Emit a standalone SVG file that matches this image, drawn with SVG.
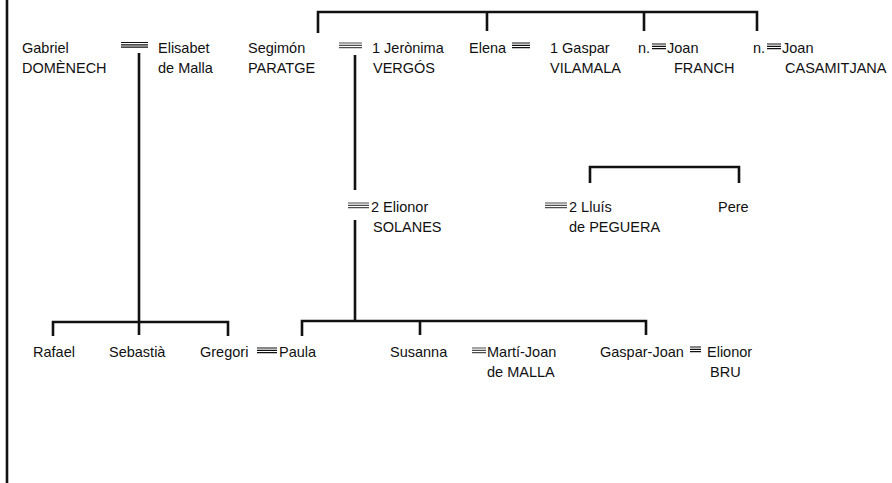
<svg xmlns="http://www.w3.org/2000/svg" width="892" height="483" viewBox="0 0 892 483">
<style>
text{font-family:"Liberation Sans",Arial,Helvetica,sans-serif;font-size:14.5px;fill:#111}
.c{fill:none;stroke:#111;stroke-width:2.6;stroke-linecap:butt}
.m{fill:none;stroke:#111;stroke-width:1.2}
.l{stroke-opacity:0.75}
</style>
<rect width="892" height="483" fill="#fff"/>
<g id="connectors">
<path class="c" d="M7,0V483"/>
<path class="c" d="M318,33V12H757V31M487,12V31M644,12V31"/>
<path class="c" d="M139,53V335"/>
<path class="c" d="M53,336V322H228V336"/>
<path class="c" d="M355,55V190M355,220V321"/>
<path class="c" d="M302,336V321H646V335M420,321V335"/>
<path class="c" d="M590,183V167H739V183"/>
</g>
<g id="gabriel"><text x="22" y="53">Gabriel</text><text x="22" y="73">DOMÈNECH</text></g>
<g id="m-gabriel"><path class="m" d="M121,42.5H148M121,44.8H148M121,47.1H148"/></g>
<g id="elisabet"><text x="158" y="53">Elisabet</text><text x="158" y="73">de Malla</text></g>
<g id="segimon"><text x="248" y="53">Segimón</text><text x="248" y="73">PARATGE</text></g>
<g id="m-segimon"><path class="m l" d="M339,43H362M339,45.3H362M339,47.6H362"/></g>
<g id="jeronima"><text x="372" y="53">1 Jerònima</text><text x="373" y="73">VERGÓS</text></g>
<g id="elena"><text x="469" y="53">Elena</text></g>
<g id="m-elena"><path class="m" d="M512,43H530M512,45.3H530M512,47.6H530"/></g>
<g id="gaspar-v"><text x="550" y="53">1 Gaspar</text><text x="550" y="73">VILAMALA</text></g>
<g id="joan-f"><text x="638" y="53">n.</text><path class="m" d="M652,44H666M652,46.3H666M652,48.6H666"/><text x="667" y="53">Joan</text><text x="674" y="73">FRANCH</text></g>
<g id="joan-c"><text x="753" y="53">n.</text><path class="m" d="M767,44H781M767,46.3H781M767,48.6H781"/><text x="782" y="53">Joan</text><text x="785" y="73">CASAMITJANA</text></g>
<g id="elionor-s"><path class="m l" d="M348,203H369M348,205.3H369M348,207.6H369"/><text x="371" y="212">2 Elionor</text><text x="373" y="232">SOLANES</text></g>
<g id="lluis"><path class="m l" d="M545,203H567M545,205.3H567M545,207.6H567"/><text x="569" y="212">2 Lluís</text><text x="569" y="232">de PEGUERA</text></g>
<g id="pere"><text x="718" y="212">Pere</text></g>
<g id="rafael"><text x="33" y="357">Rafael</text></g>
<g id="sebastia"><text x="109" y="357">Sebastià</text></g>
<g id="gregori"><text x="200" y="357">Gregori</text></g>
<g id="paula"><path class="m" d="M257,348H277M257,350.3H277M257,352.6H277"/><text x="279" y="357">Paula</text></g>
<g id="susanna"><text x="390" y="357">Susanna</text></g>
<g id="marti-joan"><path class="m l" d="M472,348H486M472,350.3H486M472,352.6H486"/><text x="487" y="357">Martí-Joan</text><text x="487" y="377">de MALLA</text></g>
<g id="gaspar-joan"><text x="600" y="357">Gaspar-Joan</text></g>
<g id="m-gaspar-joan"><path class="m" stroke-width="0.9" d="M690,347H701M690,349.3H701M690,351.6H701"/></g>
<g id="elionor-b"><text x="707" y="357">Elionor</text><text x="710" y="377">BRU</text></g>
</svg>
